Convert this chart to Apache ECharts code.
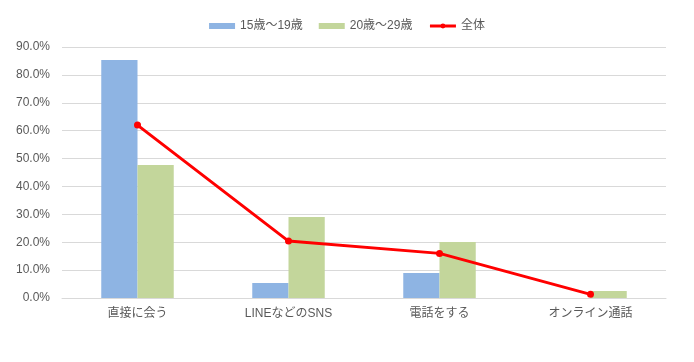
<!DOCTYPE html>
<html><head><meta charset="utf-8">
<script src="https://cdn.jsdelivr.net/npm/echarts@6/dist/echarts.min.js"></script>
<style>html,body{margin:0;padding:0;background:#fff}#c{width:694px;height:362px}</style>
</head><body><div id="c"></div>
<script>
const categories = ['直接に会う', 'LINEなどのSNS', '電話をする', 'オンライン通話'];
const teens = [85.3, 5.4, 9.0, 0];
const twenties = [47.7, 29.0, 20.1, 2.5];
const overall = [62.0, 20.4, 16.0, 1.3];
const seriesNames = ['15歳～19歳', '20歳～29歳', '全体'];

const font = '"Liberation Sans", "Noto Sans CJK JP", sans-serif';
const chart = echarts.init(document.getElementById('c'));
chart.setOption({
  animation: false,
  textStyle: { fontFamily: font },
  legend: {
    top: 15, left: 'center', itemGap: 16, itemWidth: 26, itemHeight: 6,
    textStyle: { fontFamily: font, fontSize: 12, color: '#595959' },
    data: [
      { name: seriesNames[0], icon: 'rect' },
      { name: seriesNames[1], icon: 'rect' },
      { name: seriesNames[2], lineStyle: { width: 3, color: '#ff0000' } }
    ]
  },
  grid: { left: 62, right: 28, top: 47, bottom: 64 },
  xAxis: {
    type: 'category', data: categories,
    axisLine: { lineStyle: { color: '#d9d9d9' } },
    axisTick: { show: false },
    axisLabel: { color: '#595959', fontSize: 12, margin: 10, fontFamily: font }
  },
  yAxis: {
    type: 'value', min: 0, max: 90, interval: 10,
    axisLine: { show: false }, axisTick: { show: false },
    splitLine: { lineStyle: { color: '#d9d9d9' } },
    axisLabel: { color: '#595959', fontSize: 12, margin: 12, fontFamily: font,
      formatter: v => v.toFixed(1) + '%' }
  },
  series: [
    { name: seriesNames[0], type: 'bar', data: teens, barGap: '0%', barCategoryGap: '52%',
      itemStyle: { color: '#8eb4e3' } },
    { name: seriesNames[1], type: 'bar', data: twenties, barGap: '0%', barCategoryGap: '52%',
      itemStyle: { color: '#c3d69b' } },
    { name: seriesNames[2], type: 'line', data: overall, symbol: 'circle', symbolSize: 7,
      lineStyle: { color: '#ff0000', width: 3 }, itemStyle: { color: '#ff0000' } }
  ]
});
</script></body></html>
